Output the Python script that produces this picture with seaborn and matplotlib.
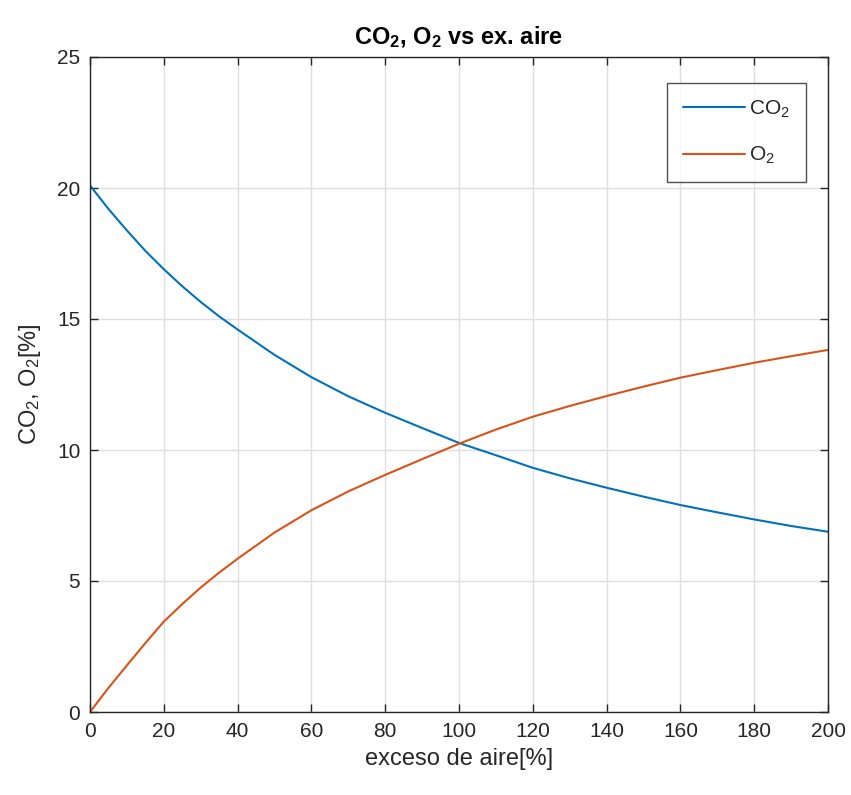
import numpy as np
import pandas as pd
import matplotlib
matplotlib.use("Agg")
import matplotlib.pyplot as plt
import seaborn as sns

exceso = [0, 5, 10, 15, 20, 25, 30, 35, 40, 50, 60, 70, 80, 90, 100,
          110, 120, 130, 140, 150, 160, 170, 180, 190, 200]
co2 = [20.1, 19.2, 18.38, 17.6, 16.9, 16.25, 15.65, 15.1, 14.6, 13.63, 12.78,
       12.05, 11.42, 10.84, 10.27, 9.8, 9.32, 8.92, 8.56, 8.22, 7.9, 7.62,
       7.35, 7.1, 6.88]
o2 = [0.0, 0.92, 1.78, 2.63, 3.45, 4.12, 4.75, 5.32, 5.85, 6.85, 7.7, 8.42,
      9.05, 9.65, 10.24, 10.78, 11.27, 11.68, 12.06, 12.42, 12.76, 13.05,
      13.33, 13.58, 13.82]
series_names = ["CO$_2$", "O$_2$"]
colors = ["#0072BD", "#D95319"]
xticks = list(range(0, 201, 20))
yticks = [0, 5, 10, 15, 20, 25]

df = pd.DataFrame({
    "x": exceso * 2,
    "y": co2 + o2,
    "serie": [series_names[0]] * len(exceso) + [series_names[1]] * len(exceso),
})

sns.set_theme(style="white")
plt.rcParams["font.family"] = ["Liberation Sans", "DejaVu Sans"]
plt.rcParams["mathtext.fontset"] = "custom"
plt.rcParams["mathtext.rm"] = "Liberation Sans"
plt.rcParams["mathtext.it"] = "Liberation Sans:italic"
plt.rcParams["mathtext.bf"] = "Liberation Sans:bold"

fig = plt.figure(figsize=(8.51, 7.95), dpi=100)
ax = fig.add_axes([90/851, (795-712)/795, 738/851, 655/795])

sns.lineplot(data=df, x="x", y="y", hue="serie", palette=colors,
             linewidth=1.5, ax=ax)

ax.set_xlim(0, 200)
ax.set_ylim(0, 25)
ax.set_xticks(xticks)
ax.set_yticks(yticks)
ax.grid(True, color="#dfdfdf", linewidth=1.0)
ax.set_axisbelow(True)
for s in ax.spines.values():
    s.set_color("#262626")
    s.set_linewidth(1.0)
    s.set_visible(True)
ax.tick_params(direction="in", length=6, width=1.0, colors="#262626",
               labelsize=15, top=True, right=True, bottom=True, left=True,
               labelcolor="#262626", pad=7)

ax.set_xlabel("exceso de aire[%]", fontsize=17, color="#262626", labelpad=5)
ax.set_ylabel("CO$_2$, O$_2$[%]", fontsize=17, color="#262626", labelpad=10)
ax.set_title("CO$_\\mathbf{2}$, O$_\\mathbf{2}$ vs ex. aire", fontsize=17,
             fontweight="bold", color="black", pad=9)

leg = ax.legend(loc="upper right", bbox_to_anchor=((806-90)/738, (712-83)/655),
                borderaxespad=0, fontsize=15,
                frameon=True, fancybox=False, edgecolor="#262626",
                handlelength=3.0, borderpad=0.75, labelspacing=1.2,
                handletextpad=0.2, title=None)
leg.get_frame().set_linewidth(1.0)

fig.savefig("out.png", dpi=100, facecolor="white")
